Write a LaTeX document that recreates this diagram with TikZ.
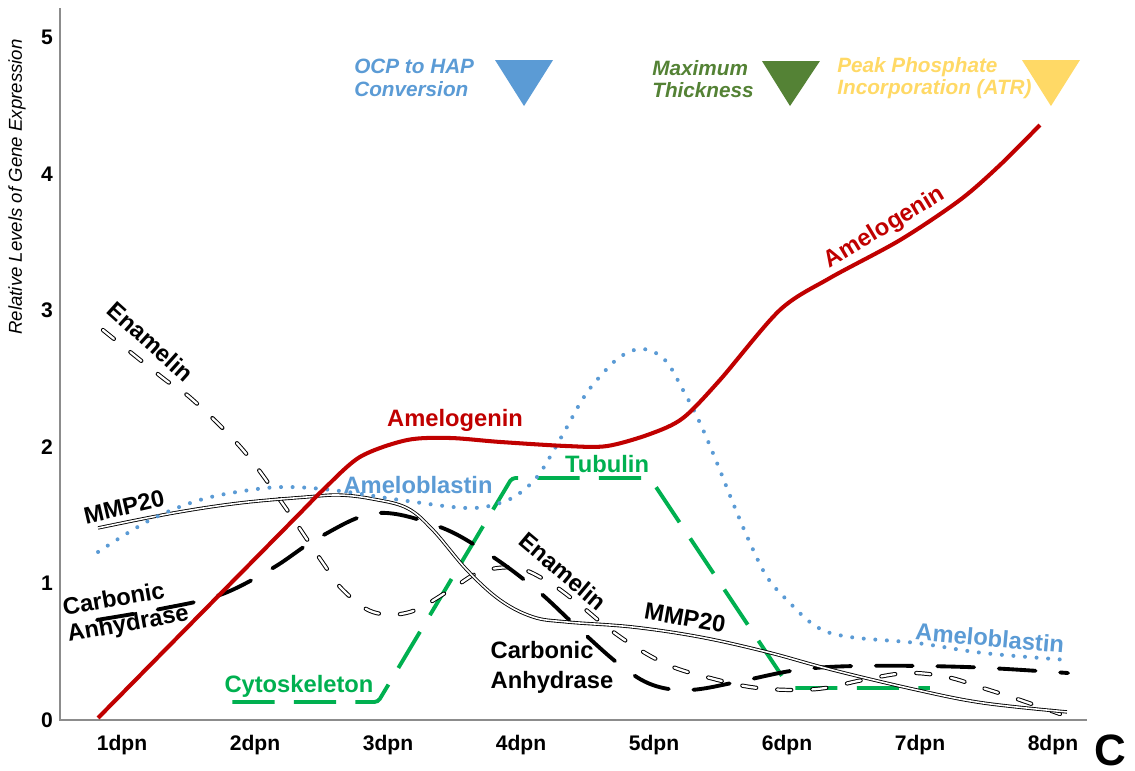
\documentclass[tikz,border=0pt]{standalone}
\usepackage{fontspec}
\setmainfont{Liberation Sans}
\usetikzlibrary{calc}
\definecolor{AmelClr}{HTML}{C00000}
\definecolor{BlastClr}{HTML}{5B9BD5}
\definecolor{TubClr}{HTML}{00B050}
\definecolor{ThickClr}{HTML}{548235}
\definecolor{AtrClr}{HTML}{FFD966}
\definecolor{AxisClr}{HTML}{8C8C8C}

\begin{document}
\begin{tikzpicture}[x=2.66cm,y=2.73cm,font=\bfseries\fontsize{12}{14}\selectfont,
  lbl/.style={inner sep=1pt,font=\bfseries\fontsize{13.5}{15}\selectfont},
  tick/.style={inner sep=1pt},
  head/.style={inner sep=0pt,anchor=west,align=left,font=\bfseries\itshape\fontsize{11.8}{13}\selectfont},
  amel/.style={AmelClr,line width=2.3pt},
  blast/.style={BlastClr,line width=2.3pt,line cap=round,dash pattern=on 0pt off 6.6pt},
  mmp/.style={double=white,line width=.5pt,double distance=.9pt},
  enam/.style={double=white,line width=.55pt,double distance=1.3pt,line cap=round,dash pattern=on 8pt off 12pt},
  carb/.style={line width=2.2pt,line cap=round,dash pattern=on 21pt off 14pt},
  cyto/.style={TubClr,line width=2.2pt,dash pattern=on 24pt off 11pt,rounded corners=2pt}]

\useasboundingbox (0.0827,-0.3736) rectangle (8.617,5.275);

\coordinate (ytop) at (0.534,5.216);
\coordinate (O) at (0.534,0);
\coordinate (xend) at (8.256,0);
\draw[AxisClr,line width=.7pt] (ytop) -- (O) -- (xend);

\foreach \v in {0,...,5}
  \node[tick] (v\v) at (0.436,\v) {\v};
\foreach \d in {1,...,8}
  \node[tick] (d\d) at (\d,-0.183) {\d dpn};
\node[tick,rotate=90,font=\itshape\fontsize{10.6}{12}\selectfont] (ylab) at (0.211,3.905) {Relative Levels of Gene Expression};
\node[tick,anchor=base,inner sep=0pt,font=\bfseries\fontsize{25}{27}\selectfont] (panel) at (8.429,-0.33) {C};

\draw[cyto] (1.83,0.132) -- (2.925,0.132) -- (3.932,1.773) -- (4.970,1.773) -- (6.023,0.234) -- (7.075,0.234);

\draw[enam] plot[smooth,tension=.6] coordinates {(0.857,2.857) (1.308,2.505) (1.534,2.344) (1.910,1.978)
  (2.226,1.560) (2.511,1.150) (2.662,0.952) (2.887,0.791) (3.165,0.791) (3.466,0.952) (3.692,1.084)
  (3.970,1.114) (4.218,1.004) (4.444,0.842) (4.654,0.674) (4.895,0.513) (5.143,0.388) (5.421,0.308)
  (5.722,0.242) (6.023,0.220) (6.286,0.234) (6.571,0.293) (6.902,0.344) (7.203,0.315) (7.474,0.234)
  (7.752,0.147) (8.053,0.044)};

\draw[carb] plot[smooth,tension=.6] coordinates {(0.812,0.733) (1.286,0.813) (1.737,0.916) (2.135,1.114)
  (2.489,1.341) (2.917,1.516) (3.391,1.414) (3.767,1.209) (4.120,0.952) (4.421,0.681) (4.744,0.403)
  (4.992,0.256) (5.271,0.220) (5.624,0.278) (6.075,0.366) (6.549,0.396) (7.353,0.388) (8.113,0.344)};

\draw[mmp] plot[smooth,tension=.6] coordinates {(0.820,1.407) (1.383,1.516) (1.887,1.590) (2.391,1.634)
  (2.639,1.648) (2.887,1.619) (3.143,1.553) (3.338,1.392) (3.594,1.099) (3.842,0.879) (4.090,0.755)
  (4.346,0.718) (4.842,0.681) (5.346,0.608) (5.850,0.498) (6.346,0.366) (6.977,0.220) (7.474,0.125)
  (8.105,0.059)};

\draw[blast] plot[smooth,tension=.6] coordinates {(0.820,1.231) (1.211,1.465) (1.586,1.612) (1.962,1.685)
  (2.263,1.707) (2.639,1.678) (3.090,1.612) (3.594,1.553) (3.842,1.590) (3.992,1.663) (4.120,1.780)
  (4.218,1.927) (4.346,2.147) (4.459,2.344) (4.571,2.491) (4.744,2.659) (4.917,2.718) (5.083,2.637)
  (5.218,2.418) (5.346,2.176) (5.474,1.883) (5.594,1.590) (5.722,1.297) (5.850,1.048) (6.000,0.879)
  (6.226,0.681) (6.474,0.608) (6.977,0.564) (7.474,0.491) (8.105,0.440)};

\draw[amel] plot[smooth,tension=.5] coordinates {(0.820,0.015) (1.600,0.786) (2.300,1.477) (2.511,1.685)
  (2.789,1.927) (3.143,2.051) (3.466,2.066) (3.842,2.037) (4.346,2.007) (4.647,2.007) (4.970,2.095)
  (5.218,2.212) (5.496,2.491) (5.947,3.004) (6.323,3.238) (6.850,3.516) (7.301,3.810) (7.602,4.066)
  (7.902,4.359)};

\node[lbl,AmelClr] (amel1) at (3.504,2.198) {Amelogenin};
\node[lbl,AmelClr,rotate=31] (amel2) at (6.737,3.604) {Amelogenin};
\node[lbl,BlastClr] (blast1) at (3.226,1.722) {Ameloblastin};
\node[lbl,BlastClr,rotate=-5] (blast2) at (7.526,0.601) {Ameloblastin};
\node[lbl,rotate=13] (mmp1) at (1.015,1.560) {MMP20};
\node[lbl,rotate=-10] (mmp2) at (5.233,0.747) {MMP20};
\node[lbl,rotate=-42] (enam1) at (1.215,2.772) {Enamelin};
\node[lbl,rotate=-40] (enam2) at (4.315,1.090) {Enamelin};
\node[lbl,rotate=10,align=left,font=\bfseries\fontsize{13.5}{15}\selectfont] (carb1) at (1.030,0.791) {Carbonic\\Anhydrase};
\node[lbl,align=left,font=\bfseries\fontsize{13.5}{17}\selectfont] (carb2) at (4.233,0.388) {Carbonic\\Anhydrase};
\node[lbl,TubClr] (cyto) at (2.331,0.249) {Cytoskeleton};
\node[lbl,TubClr] (tub) at (4.647,1.875) {Tubulin};

\node[head,BlastClr] (ocp) at (2.744,4.703) {OCP to HAP\\Conversion};
\fill[BlastClr] (3.805,4.835) -- (4.241,4.835) -- (4.023,4.498) -- cycle;
\node[head,ThickClr] (thick) at (4.985,4.696) {Maximum\\Thickness};
\fill[ThickClr] (5.812,4.828) -- (6.248,4.828) -- (6.023,4.498) -- cycle;
\node[head,AtrClr] (atr) at (6.376,4.703) {Peak Phosphate\\Incorporation (ATR)};
\fill[AtrClr] (7.767,4.835) -- (8.203,4.835) -- (7.985,4.498) -- cycle;

\end{tikzpicture}
\end{document}
